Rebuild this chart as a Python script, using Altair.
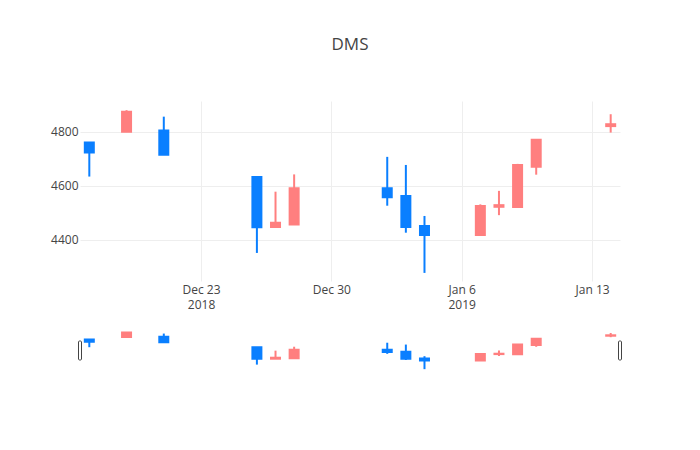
import altair as alt
import pandas as pd

# ---- data ----
dates = ["2018-12-17", "2018-12-19", "2018-12-21", "2018-12-26", "2018-12-27",
         "2018-12-28", "2019-01-02", "2019-01-03", "2019-01-04", "2019-01-07",
         "2019-01-08", "2019-01-09", "2019-01-10", "2019-01-14"]
opens = [4760, 4800, 4805, 4632, 4447, 4456, 4591, 4562, 4451, 4417, 4522, 4521, 4670, 4821]
closes = [4723, 4874, 4715, 4446, 4463, 4591, 4557, 4447, 4417, 4525, 4528, 4677, 4770, 4828]
highs = [4762, 4880, 4856, 4632, 4578, 4642, 4707, 4677, 4488, 4531, 4581, 4681, 4770, 4865]
lows = [4634, 4799, 4715, 4351, 4447, 4456, 4526, 4426, 4277, 4417, 4491, 4521, 4641, 4797]

tick_dates = ["2018-12-23", "2018-12-30", "2019-01-06", "2019-01-13"]
tick_line1 = ["Dec 23", "Dec 30", "Jan 6", "Jan 13"]
tick_line2 = ["2018", "", "2019", ""]
y_ticks = [4400, 4600, 4800]
x_range = ["2018-12-16T12:00:00", "2019-01-14T12:00:00"]
y_range = [4247, 4914]

INC = "#FF7F7F"
DEC = "#0A7FFF"


def dt(s):
    t = pd.Timestamp(s)
    return alt.DateTime(year=t.year, month=t.month, date=t.day,
                        hours=t.hour, minutes=t.minute, utc=True)


def ms(s):
    return int(pd.Timestamp(s, tz="UTC").value // 10**6)


df = pd.DataFrame({
    "date": [d + "T00:00:00Z" for d in dates],
    "open": opens, "close": closes, "high": highs, "low": lows,
})
df["dir"] = ["inc" if c >= o else "dec" for o, c in zip(opens, closes)]

# label expression (multi-line labels where a year is shown)
expr = "''"
for d, l1, l2 in reversed(list(zip(tick_dates, tick_line1, tick_line2))):
    lab = f"['{l1}', '{l2}']" if l2 else f"'{l1}'"
    expr = f"datum.value == {ms(d)} ? {lab} : ({expr})"

x_scale = alt.Scale(type="utc", domain=[dt(x_range[0]), dt(x_range[1])], padding=0)
y_scale = alt.Scale(domain=y_range, nice=False, zero=False)
col_scale = alt.Scale(domain=["inc", "dec"], range=[INC, DEC])

x_main = alt.X("date:T", scale=x_scale, title=None,
               axis=alt.Axis(values=[dt(d) for d in tick_dates], labelExpr=expr,
                             grid=True, labelPadding=3, labelLineHeight=15,
                             labelAngle=0))
y_main = alt.Y("low:Q", scale=y_scale, title=None,
               axis=alt.Axis(values=y_ticks, format="d", grid=True, labelPadding=2))

base = alt.Chart(df)

wick = base.mark_rule(strokeWidth=2).encode(
    x=x_main, y=y_main, y2="high:Q",
    color=alt.Color("dir:N", scale=col_scale, legend=None),
)
body = base.mark_bar(width=9, strokeWidth=2).encode(
    x=x_main, y=alt.Y("open:Q", scale=y_scale), y2="close:Q",
    fill=alt.Fill("dir:N", scale=col_scale, legend=None),
    stroke=alt.Stroke("dir:N", scale=col_scale, legend=None),
)

main = alt.layer(wick, body).properties(
    width=540, height=180,
    title=alt.TitleParams("DMS", anchor="middle", frame="group", offset=47,
                          font="Open Sans", fontSize=17, fontWeight="normal",
                          color="#444"),
)

# ---- range slider ----
x_sl = alt.X("date:T", scale=x_scale, axis=None)
y_sl = alt.Y("low:Q", scale=y_scale, axis=None)
s_wick = base.mark_rule(strokeWidth=2).encode(
    x=x_sl, y=y_sl, y2="high:Q",
    color=alt.Color("dir:N", scale=col_scale, legend=None),
)
s_body = base.mark_bar(width=9, strokeWidth=2).encode(
    x=x_sl, y=alt.Y("open:Q", scale=y_scale, axis=None), y2="close:Q",
    fill=alt.Fill("dir:N", scale=col_scale, legend=None),
    stroke=alt.Stroke("dir:N", scale=col_scale, legend=None),
)
handles_df = pd.DataFrame({"date": [d + "Z" for d in x_range]})
handles = alt.Chart(handles_df).mark_bar(
    width=3, fill="white", stroke="#444", strokeWidth=1, cornerRadius=1
).encode(x=alt.X("date:T", scale=x_scale, axis=None),
         y=alt.value(11), y2=alt.value(30))

slider = alt.layer(s_wick, s_body, handles).properties(width=540, height=41)

chart = alt.vconcat(main, slider, spacing=49, bounds="flush").properties(
    padding={"left": 50, "top": 36, "right": 77, "bottom": 80},
).configure_view(stroke=None).configure_axis(
    labelFont="Open Sans", labelFontSize=12, labelColor="#444",
    gridColor="#eee", gridWidth=1, domain=False, ticks=False,
)

chart.save("out.html", embed_options={"renderer": "svg", "actions": False})
